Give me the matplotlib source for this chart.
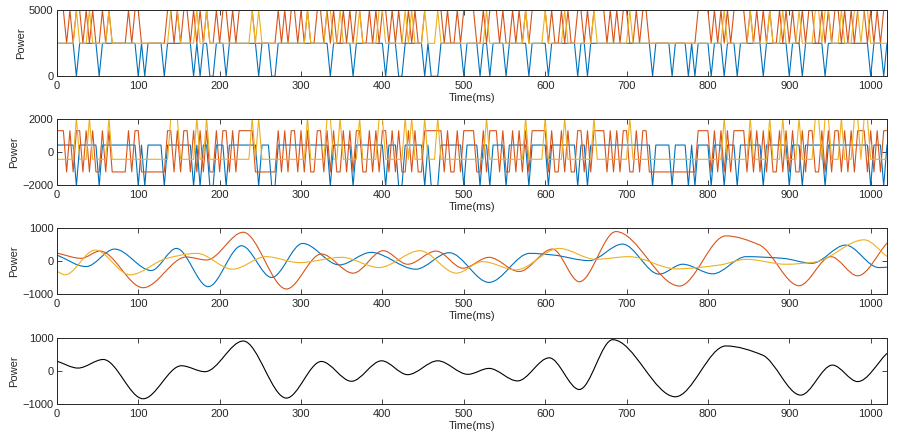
import numpy as np
import matplotlib
matplotlib.use("Agg")
import matplotlib.pyplot as plt
from matplotlib.path import Path
from matplotlib.patches import PathPatch

plt.rcParams['font.family'] = ['Liberation Sans', 'DejaVu Sans']
plt.rcParams['font.size'] = 8

# ---------------- data ----------------
n_samples = 256
step_ms = 4
time_ms = np.arange(n_samples) * step_ms

# panel 1: three two-level signals (indices of samples)
blue_low_idx = [6, 13, 25, 27, 33, 42, 44, 47, 48, 52, 62, 66, 67, 84, 91, 101, 105, 106,
                113, 115, 116, 117, 125, 130, 133, 138, 145, 151, 160, 163, 183, 189, 194,
                196, 201, 205, 209, 217, 225, 229, 236, 250, 254]
yellow_high_idx = [6, 10, 16, 35, 36, 37, 43, 46, 60, 62, 77, 83, 84, 87, 93, 99, 100, 107,
                   109, 113, 117, 132, 144, 150, 156, 165, 176, 205, 213, 219, 223, 228, 233,
                   234, 236, 237, 241, 245, 246, 248, 249]
red_groups = ["111", "010110101001010", "000010", "110", "00000001", "10101101010",
              "1001011010", "1111100000", "0010101101", "0100110101", "0010101100",
              "1010110101", "00101001", "11111", "0100101", "1110", "01011101",
              "001010101", "1111", "01001010011010", "11110", "10101100101", "1",
              "00000000000000", "0111101010", "1011110101", "0101001010", "1001011001",
              "0101101010", "1110", "101011"]
levels_blue = (0, 2500)
levels_red = (2500, 5000)
levels_yellow = (2500, 5000)
# panel 2: same signals with offsets removed
offset_blue, offset_red, offset_yellow = 2060, 3690, 2925

# panel 3: filtered components (time ms, value)
p3_red_t = [0, 30, 53, 106, 159, 184, 229, 282, 325, 364, 401, 431, 466, 499, 531, 568, 609,
            642, 687, 765, 822, 863, 912, 951, 984, 1020]
p3_red_v = [250, 90, 310, -800, 130, 40, 880, -840, 220, -360, 320, -90, 310, -210, 120, -310,
            370, -620, 900, -750, 770, 500, -740, 140, -440, 550]
p3_blue_t = [0, 36, 71, 116, 147, 186, 227, 264, 302, 347, 386, 441, 482, 531, 581, 610, 654,
             695, 740, 769, 806, 847, 892, 928, 969, 1010, 1020]
p3_blue_v = [190, -160, 370, -280, 390, -770, 470, -490, 540, -110, 270, -240, 260, -640, 240,
             190, 20, 520, -390, -90, -380, 140, 90, -60, 490, -190, -180]
p3_yellow_t = [0, 10, 47, 90, 135, 172, 216, 257, 298, 350, 396, 446, 491, 523, 564, 617, 662,
               703, 761, 815, 847, 896, 932, 992, 1020]
p3_yellow_v = [-300, -410, 340, -410, 90, 240, -240, 140, -40, 120, -190, 320, -360, -10, -260,
               390, 60, 140, -230, -110, 60, -90, -20, 650, 150]

# panel 4: reconstructed signal
p4_t = [0, 26, 57, 106, 153, 182, 229, 282, 325, 362, 399, 431, 468, 505, 531, 566, 605, 642,
        683, 760, 822, 867, 914, 953, 984, 1020]
p4_v = [290, 80, 340, -850, 150, -30, 900, -830, 280, -320, 300, -120, 300, -110, 70, -310,
        390, -570, 940, -790, 750, 475, -740, 170, -330, 525]

C_BLUE = '#0072BD'
C_RED = '#D95319'
C_YEL = '#EDB120'
TXT = '#262626'

# ---------------- build series ----------------
blue = np.full(n_samples, levels_blue[1], dtype=float)
blue[blue_low_idx] = levels_blue[0]
yellow = np.full(n_samples, levels_yellow[0], dtype=float)
yellow[yellow_high_idx] = levels_yellow[1]
red_bits = "".join(red_groups)
assert len(red_bits) == n_samples, len(red_bits)
red = np.where(np.array(list(red_bits)) == '1', levels_red[1], levels_red[0]).astype(float)


def smooth_line(ax, t, v, color, lw=0.8):
    t = np.asarray(t, float)
    v = np.asarray(v, float)
    h = np.diff(t)
    d = np.diff(v) / h
    m = np.zeros_like(v)
    m[0] = d[0]
    m[-1] = d[-1]
    for i in range(1, len(v) - 1):
        if d[i - 1] * d[i] > 0:
            w1 = 2 * h[i] + h[i - 1]
            w2 = h[i] + 2 * h[i - 1]
            m[i] = (w1 + w2) / (w1 / d[i - 1] + w2 / d[i])
    verts = [(t[0], v[0])]
    codes = [Path.MOVETO]
    for i in range(len(t) - 1):
        verts += [(t[i] + h[i] / 3, v[i] + m[i] * h[i] / 3),
                  (t[i + 1] - h[i] / 3, v[i + 1] - m[i + 1] * h[i] / 3),
                  (t[i + 1], v[i + 1])]
        codes += [Path.CURVE4] * 3
    ax.add_patch(PathPatch(Path(verts, codes), fill=False, edgecolor=color, lw=lw))


# ---------------- figure ----------------
fig = plt.figure(figsize=(9.07, 4.43), dpi=100)
left, width, height = 0.0627, 0.9152, 0.149
bottoms = [0.8278, 0.5817, 0.3357, 0.0887]
axes = [fig.add_axes([left, b, width, height]) for b in bottoms]

ax1, ax2, ax3, ax4 = axes
lw = 0.8
ax1.plot(time_ms, blue, color=C_BLUE, lw=lw)
ax1.plot(time_ms, red, color=C_RED, lw=lw)
ax1.plot(time_ms, yellow, color=C_YEL, lw=lw)
ax1.set_ylim(0, 5000)
ax1.set_yticks([0, 5000])

ax2.plot(time_ms, blue - offset_blue, color=C_BLUE, lw=lw)
ax2.plot(time_ms, red - offset_red, color=C_RED, lw=lw)
ax2.plot(time_ms, yellow - offset_yellow, color=C_YEL, lw=lw)
ax2.set_ylim(-2000, 2000)
ax2.set_yticks([-2000, 0, 2000])

smooth_line(ax3, p3_blue_t, p3_blue_v, C_BLUE)
smooth_line(ax3, p3_red_t, p3_red_v, C_RED)
smooth_line(ax3, p3_yellow_t, p3_yellow_v, C_YEL)
ax3.set_ylim(-1000, 1000)
ax3.set_yticks([-1000, 0, 1000])

smooth_line(ax4, p4_t, p4_v, 'black')
ax4.set_ylim(-1000, 1000)
ax4.set_yticks([-1000, 0, 1000])

for ax in axes:
    ax.set_xlim(0, 1020)
    ax.set_xticks(np.arange(0, 1001, 100))
    ax.tick_params(direction='in', top=True, right=True, length=3.5, width=0.6,
                   colors=TXT, labelsize=8)
    ax.tick_params(axis='x', pad=3.5)
    ax.tick_params(axis='y', pad=2.5)
    for s in ax.spines.values():
        s.set_linewidth(0.7)
        s.set_color(TXT)
    ax.set_xlabel('Time(ms)', color=TXT, labelpad=1.5)
    ax.set_ylabel('Power', color=TXT, labelpad=2)

fig.savefig('out.png', dpi=100)
